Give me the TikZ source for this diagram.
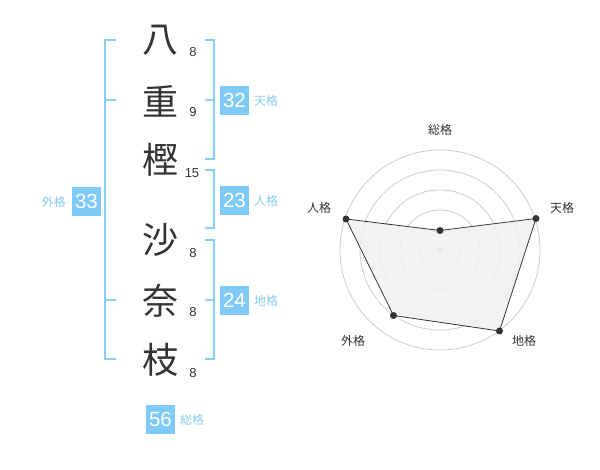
\documentclass[tikz,border=0pt]{standalone}
\usepackage{fontspec}
\setmainfont{Liberation Sans}
\newfontfamily\jpfont{Noto Sans CJK JP}
\definecolor{brk}{HTML}{87CEFA}
\definecolor{boxc}{HTML}{80CAF8}
\definecolor{lbl}{HTML}{88CCF2}
\definecolor{ink}{HTML}{333333}
\definecolor{grid}{HTML}{CCCCCC}
\definecolor{polyfill}{HTML}{F0F0F0}
\tikzset{
  kanji/.style={font=\jpfont\fontsize{36}{36}\selectfont, text=ink, inner sep=0pt},
  strokes/.style={font=\fontsize{13}{13}\selectfont, text=ink, inner sep=0pt},
  scorebox/.style={fill=boxc, text=white, font=\fontsize{20.5}{20.5}\selectfont, minimum width=29pt, minimum height=29pt, inner sep=0pt},
  kaku/.style={font=\jpfont\fontsize{12}{12}\selectfont, text=lbl, inner sep=0pt},
  bracket/.style={draw=brk, line width=2pt},
  radarlbl/.style={font=\jpfont\fontsize{12}{12}\selectfont, text=ink, inner sep=0pt},
  ring/.style={draw=grid, line width=0.8pt},
  pt/.style={circle, fill=ink, minimum size=7pt, inner sep=0pt},
}
\begin{document}
\begin{tikzpicture}[x=1pt,y=-1pt]
\useasboundingbox (0,0) rectangle (600,470);
% name characters
\node[kanji] (c1) at (160,40) {八};
\node[kanji] (c2) at (160,101) {重};
\node[kanji] (c3) at (160,160) {樫};
\node[kanji] (c4) at (160,240) {沙};
\node[kanji] (c5) at (160,301) {奈};
\node[kanji] (c6) at (160,360) {枝};
% stroke counts
\node[strokes] (s1) at (193,52.5) {8};
\node[strokes] (s2) at (193,112.5) {9};
\node[strokes] (s3) at (192,173.5) {15};
\node[strokes] (s4) at (193,253.5) {8};
\node[strokes] (s5) at (193,312.5) {8};
\node[strokes] (s6) at (193,373.5) {8};
% brackets
\draw[bracket] (116,40) -- (105,40) -- (105,359) -- (116,359);
\draw[bracket] (105,100) -- (116,100);
\draw[bracket] (105,300) -- (116,300);
\draw[bracket] (205,40) -- (214,40) -- (214,159) -- (205,159);
\draw[bracket] (205,100) -- (214,100);
\draw[bracket] (205,170) -- (214,170) -- (214,228) -- (205,228);
\draw[bracket] (205,240) -- (214,240) -- (214,359) -- (205,359);
\draw[bracket] (205,300) -- (214,300);
% score boxes
\node[scorebox] (ten) at (234.5,100.5) {32};
\node[kaku, anchor=west] (tenl) at (254,101) {天格};
\node[scorebox] (jin) at (234.5,200.5) {23};
\node[kaku, anchor=west] (jinl) at (254,201) {人格};
\node[scorebox] (chi) at (234.5,300.5) {24};
\node[kaku, anchor=west] (chil) at (254,301) {地格};
\node[scorebox] (gai) at (86.5,201.5) {33};
\node[kaku, anchor=east] (gail) at (66,202) {外格};
\node[scorebox] (sou) at (160.5,419) {56};
\node[kaku, anchor=west] (soul) at (180,420) {総格};
% radar chart
\coordinate (o) at (440,250);
\foreach \r in {20,40,60,80,100} \draw[ring] (o) circle (\r);
\fill[grid] (o) circle (3.5);
\path (o) ++(0,-19.5) coordinate (psou)
      (o) ++(96,-31.5) coordinate (pten)
      (o) ++(59.5,81) coordinate (pchi)
      (o) ++(-46.5,65.5) coordinate (pgai)
      (o) ++(-94,-31) coordinate (pjin);
\draw[fill=polyfill, fill opacity=0.85, draw=ink, line width=0.8pt] (psou) -- (pten) -- (pchi) -- (pgai) -- (pjin) -- cycle;
\foreach \p in {psou,pten,pchi,pgai,pjin} \node[pt] (n\p) at (\p) {};
\node[radarlbl] (rsou) at (440,130) {総格};
\node[radarlbl] (rten) at (562,208) {天格};
\node[radarlbl] (rchi) at (524,341) {地格};
\node[radarlbl] (rgai) at (353,341) {外格};
\node[radarlbl] (rjin) at (319,208) {人格};
\end{tikzpicture}
\end{document}
